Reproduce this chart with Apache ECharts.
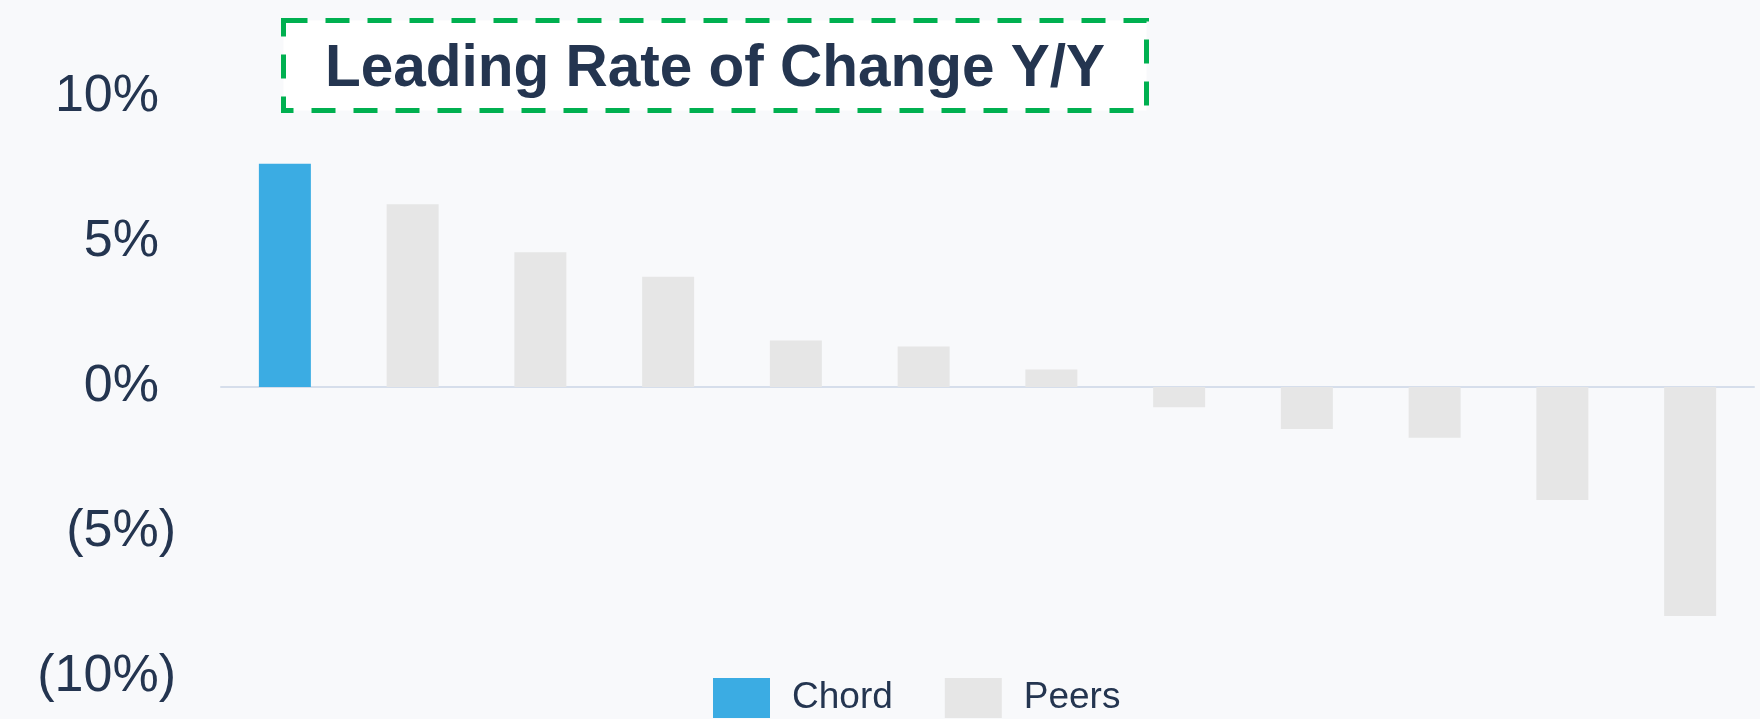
<!DOCTYPE html>
<html>
<head>
<meta charset="utf-8">
<script src="https://cdn.jsdelivr.net/npm/echarts@6/dist/echarts.min.js"></script>
<style>
  html, body { margin: 0; padding: 0; background: #f8f9fb; }
  #chart { width: 1760px; height: 719px; }
</style>
</head>
<body>
<div id="chart"></div>
<script>
  // companies, first one is Chord, the rest are peers
  var companies = ['Chord', 'Peer A', 'Peer B', 'Peer C', 'Peer D', 'Peer E',
                   'Peer F', 'Peer G', 'Peer H', 'Peer I', 'Peer J', 'Peer K'];
  // leading rate of change y/y, in %
  var chordValues = [7.7, '-', '-', '-', '-', '-', '-', '-', '-', '-', '-', '-'];
  var peerValues = ['-', 6.3, 4.65, 3.8, 1.6, 1.4, 0.6, -0.7, -1.45, -1.75, -3.9, -7.9];
  var yTicks = [-10, -5, 0, 5, 10];

  var textColor = '#243550';
  var font = 'Arial, "Liberation Sans", sans-serif';

  var myChart = echarts.init(document.getElementById('chart'));
  var option = {
    backgroundColor: '#f8f9fb',
    animation: false,
    title: {
      text: 'Leading Rate of Change Y/Y',
      left: 283,
      top: 20,
      padding: [20, 42, 12, 42],
      backgroundColor: '#ffffff',
      borderColor: '#00b050',
      borderWidth: 5,
      borderType: [24, 18],
      textStyle: {
        color: textColor,
        fontFamily: font,
        fontWeight: 'bold',
        fontSize: 58.5
      }
    },
    legend: {
      left: 713,
      top: 678,
      padding: 0,
      itemWidth: 57,
      itemHeight: 40,
      itemGap: 52,
      icon: 'rect',
      data: ['Chord', 'Peers'],
      textStyle: {
        color: textColor,
        fontFamily: font,
        fontSize: 37,
        padding: [0, 0, 0, 17]
      }
    },
    grid: {
      left: 221,
      right: 6,
      top: 97,
      bottom: 42
    },
    xAxis: {
      type: 'category',
      data: companies,
      axisLine: { show: true, onZero: true, lineStyle: { color: '#d6deeb', width: 2 } },
      axisTick: { show: false },
      axisLabel: { show: false },
      splitLine: { show: false }
    },
    yAxis: {
      type: 'value',
      min: yTicks[0],
      max: yTicks[yTicks.length - 1],
      interval: 5,
      axisLine: { show: false },
      axisTick: { show: false },
      splitLine: { show: false },
      axisLabel: {
        margin: 45,
        formatter: function (v) {
          if (v < 0) return '{n|(' + (-v) + '%)}';
          return '{p|' + v + '%}';
        },
        rich: {
          p: { color: textColor, fontFamily: font, fontSize: 52, padding: [0, 17, 0, 0] },
          n: { color: textColor, fontFamily: font, fontSize: 52 }
        }
      }
    },
    series: [
      {
        name: 'Chord',
        type: 'bar',
        barWidth: 52,
        barGap: '-100%',
        itemStyle: { color: '#3bace3' },
        data: chordValues
      },
      {
        name: 'Peers',
        type: 'bar',
        barWidth: 52,
        barGap: '-100%',
        itemStyle: { color: '#e6e6e6' },
        data: peerValues
      }
    ]
  };
  myChart.setOption(option);
</script>
</body>
</html>
